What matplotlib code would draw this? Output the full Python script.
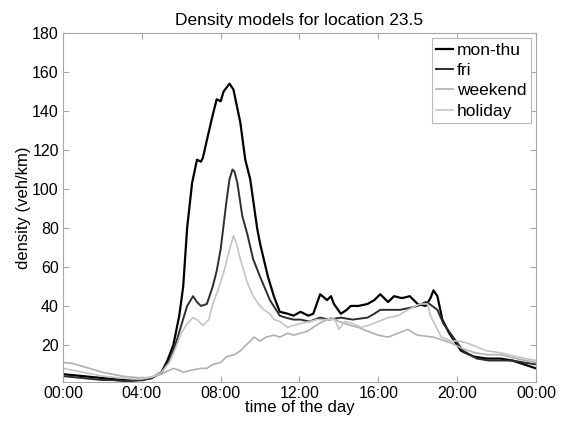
import matplotlib
matplotlib.use("Agg")
import matplotlib.pyplot as plt

plt.rcParams['font.family'] = ['Liberation Sans', 'DejaVu Sans']

# hours of day / density values
mon_thu_h = [0, 0.5, 1, 1.5, 2, 2.5, 3, 3.5, 4, 4.5, 5, 5.3, 5.6, 5.9, 6.1, 6.3, 6.55, 6.8, 7.0, 7.1,
             7.3, 7.6, 7.8, 8.0, 8.15, 8.45, 8.65, 9.0, 9.25, 9.5, 9.85, 10.0, 10.4, 10.7, 11.0, 11.4,
             11.7, 12.05, 12.45, 12.7, 13.05, 13.4, 13.6, 13.75, 14.1, 14.4, 14.6, 15.0, 15.45, 15.8,
             16.1, 16.5, 16.8, 17.2, 17.6, 18.0, 18.4, 18.65, 18.8, 19.0, 19.25, 19.6, 20.2, 20.85,
             21.5, 22.2, 22.8, 23.4, 24]
mon_thu = [5, 4.5, 4, 3.5, 3, 2.5, 2, 2, 2, 3, 6, 12, 20, 35, 50, 80, 103, 115, 114, 116,
           125, 138, 146, 145, 150, 154, 151, 134, 115, 105, 80, 72, 55, 45, 37, 36,
           35, 37, 35, 36, 46, 43, 45, 41, 36, 38, 40, 40, 41, 43,
           46, 42, 45, 44, 45, 41, 40, 44, 48, 45, 33, 26, 17, 14,
           13, 13, 12, 10, 8]

fri_h = [0, 0.5, 1, 1.5, 2, 2.5, 3, 3.5, 4, 4.5, 5, 5.4, 5.7, 6.0, 6.3, 6.6, 6.8, 7.0, 7.3, 7.6,
         7.8, 8.0, 8.3, 8.45, 8.6, 8.7, 8.85, 9.1, 9.35, 9.65, 10.0, 10.5, 11.0, 11.3, 11.7, 12.05,
         12.5, 13.05, 13.5, 14.1, 14.7, 15.45, 15.8, 16.1, 16.6, 17.1, 17.6, 18.0, 18.4, 18.6,
         19.0, 19.3, 19.8, 20.3, 21.0, 21.6, 22.2, 22.8, 23.4, 24]
fri = [4, 3.5, 3, 2.5, 2, 2, 1.5, 1.5, 2, 3, 6, 12, 20, 30, 40, 45, 42, 40, 41, 50,
       58, 69, 94, 105, 110, 109, 103, 86, 77, 64, 55, 43, 35, 34, 33, 33,
       32, 34, 33, 34, 33, 34, 36, 38, 38, 38, 39, 40, 42, 41,
       38, 31, 24, 17, 13, 12, 12, 12, 11, 10]

weekend_h = [0, 0.5, 1, 1.5, 2, 2.5, 3, 3.5, 4, 4.5, 5.0, 5.4, 5.6, 5.9, 6.1, 6.5, 7.0, 7.3, 7.6,
             8.0, 8.3, 8.7, 9.0, 9.4, 9.7, 10.0, 10.3, 10.7, 11.0, 11.4, 11.7, 12.05, 12.4, 12.7,
             13.0, 13.6, 14.0, 14.6, 15.0, 15.45, 16.0, 16.5, 17.0, 17.5, 17.8, 18.0, 18.8, 19.7,
             20.3, 20.9, 21.5, 22.2, 23.0, 24]
weekend = [11, 10.5, 9, 7.5, 6, 5, 4, 3.5, 3, 3.5, 5, 7, 8, 7, 6, 7, 8, 8, 10,
           11, 14, 15, 17, 21, 24, 22, 24, 25, 24, 26, 25, 26, 27, 29,
           31, 34, 32, 30, 29, 27, 25, 24, 26, 28, 26, 25, 24, 21,
           18, 16, 15, 15, 13, 11]

holiday_h = [0, 0.5, 1, 1.5, 2, 2.5, 3, 3.5, 4, 4.5, 5.0, 5.4, 5.7, 6.0, 6.3, 6.6, 6.8, 7.1, 7.4,
             7.6, 7.9, 8.15, 8.4, 8.65, 8.8, 9.0, 9.35, 9.65, 10.0, 10.2, 10.5, 10.7, 11.0, 11.4,
             11.7, 12.05, 12.5, 12.9, 13.4, 13.8, 14.0, 14.3, 14.7, 15.1, 15.5, 16.0, 16.5, 17.0,
             17.5, 18.1, 18.5, 18.65, 19.2, 19.7, 20.1, 20.5, 21.0, 21.5, 22.2, 23.0, 24]
holiday = [8, 7, 6, 5, 4, 3.5, 3, 2.5, 2.5, 3.5, 6, 11, 18, 26, 31, 34, 33, 30, 33,
           41, 49, 57, 67, 76, 72, 64, 52, 45, 40, 38, 36, 33, 32, 29,
           30, 31, 32, 33, 33, 33, 28, 32, 31, 29, 30, 32, 34, 35,
           38, 41, 41, 35, 24, 22, 22, 21, 19, 17, 16, 14, 12]

hour_ticks = [0, 4, 8, 12, 16, 20, 24]
hour_labels = ['00:00', '04:00', '08:00', '12:00', '16:00', '20:00', '00:00']

fig = plt.figure(figsize=(5.61, 4.23), dpi=100)
ax = fig.add_axes([0.1123, 0.097, 0.843, 0.825])

ax.plot(mon_thu_h, mon_thu, color='#000000', lw=1.6, label='mon-thu')
ax.plot(fri_h, fri, color='#2e2e2e', lw=1.4, label='fri')
ax.plot(weekend_h, weekend, color='#b0b0b0', lw=1.2, label='weekend')
ax.plot(holiday_h, holiday, color='#c4c4c4', lw=1.2, label='holiday')

ax.set_xlim(0, 24)
ax.set_ylim(1, 180)
ax.set_xticks(hour_ticks)
ax.set_xticklabels(hour_labels)
ax.set_yticks(range(20, 181, 20))

for s in ax.spines.values():
    s.set_color('#a8a8a8')
ax.tick_params(direction='in', length=4, color='#a8a8a8', labelsize=11.5,
               top=True, right=True, pad=3)

ax.set_title('Density models for location 23.5', fontsize=12.5, pad=6)
ax.set_xlabel('time of the day', fontsize=12, labelpad=-1)
ax.set_ylabel('density (veh/km)', fontsize=12, labelpad=1)

leg = ax.legend(loc='upper right', fontsize=12.5, handlelength=1.0, handletextpad=0.2,
                borderpad=0.25, labelspacing=0.3, borderaxespad=0.3, fancybox=False)
leg.get_frame().set_edgecolor('#a8a8a8')
leg.get_frame().set_linewidth(0.8)

fig.savefig('out.png', dpi=100)
